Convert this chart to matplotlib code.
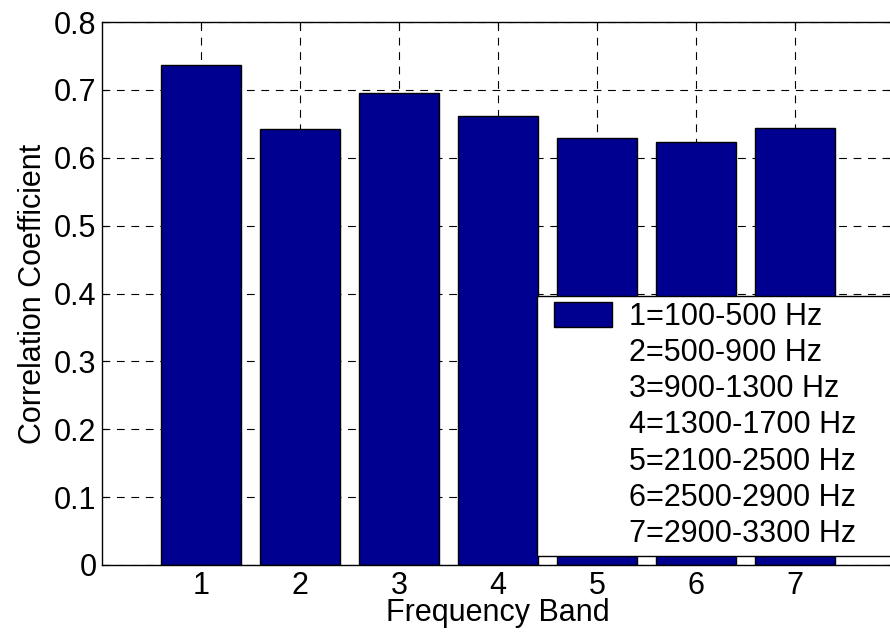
import matplotlib
matplotlib.use("Agg")
import matplotlib.pyplot as plt
from matplotlib.patches import Patch, Rectangle

plt.rcParams['font.family'] = ['Liberation Sans', 'DejaVu Sans']

# correlation per frequency band
bands = [1, 2, 3, 4, 5, 6, 7]
corr = [0.736, 0.642, 0.6955, 0.6615, 0.629, 0.6235, 0.6435]
band_labels = ['1=100-500 Hz', '2=500-900 Hz', '3=900-1300 Hz', '4=1300-1700 Hz',
               '5=2100-2500 Hz', '6=2500-2900 Hz', '7=2900-3300 Hz']
yticks = [0, 0.1, 0.2, 0.3, 0.4, 0.5, 0.6, 0.7, 0.8]

fs = 22
W, H = 890, 632

fig = plt.figure(figsize=(W/100, H/100), dpi=100)
ax = fig.add_axes([102/W, 67/H, 792/W, 543/H])

ax.bar(bands, corr, width=0.8, color='#000090', edgecolor='black', linewidth=1.0, zorder=2)

ax.set_xlim(0, 8)
ax.set_ylim(0, 0.8)
ax.set_xticks(bands)
ax.set_yticks(yticks)
ax.set_yticklabels(['0' if v == 0 else f'{v:g}' for v in yticks])
ax.tick_params(direction='in', labelsize=fs, length=5, top=True, right=True, pad=4)

ax.set_axisbelow(True)
ax.grid(True, color='black', linewidth=0.8, linestyle=(0, (7, 6)))

ax.set_xlabel('Frequency Band', fontsize=fs, labelpad=-2)
ax.set_ylabel('Correlation Coefficient', fontsize=fs, labelpad=4)

for s in ax.spines.values():
    s.set_linewidth(1.0)

# legend box runs off the right edge of the figure
box = Rectangle((537/W, 76/H), 380/W, 260/H, transform=fig.transFigure,
                facecolor='white', edgecolor='black', linewidth=1.0,
                zorder=4, clip_on=False)
fig.add_artist(box)

handles = [Patch(facecolor='#000090', edgecolor='black', linewidth=1.0)]
handles += [Patch(facecolor='none', edgecolor='none') for _ in band_labels[1:]]
leg = fig.legend(handles, band_labels, loc='upper left',
                 bbox_to_anchor=(554/W, (H - 302)/H), borderaxespad=0,
                 fontsize=fs, frameon=False, handlelength=1.9, handleheight=0.88,
                 handletextpad=0.55, labelspacing=0.2, borderpad=0)
leg.set_zorder(5)

fig.savefig('out.png', dpi=100)
